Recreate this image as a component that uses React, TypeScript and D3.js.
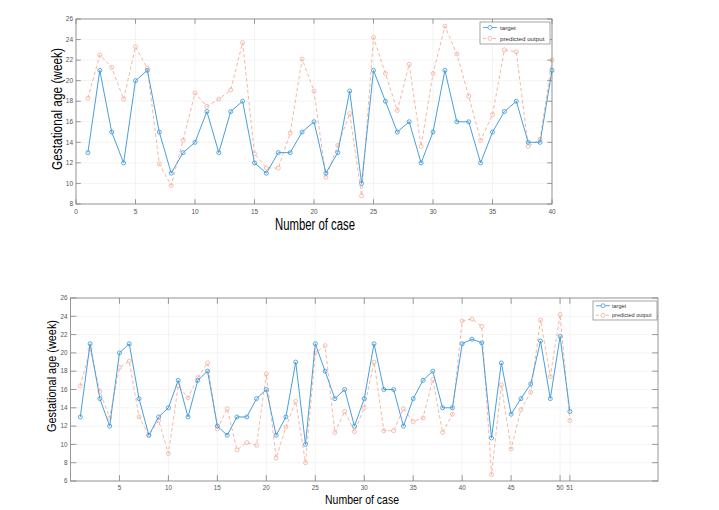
import React from "react";
import * as d3 from "d3";

const topTarget = [13, 21, 15, 12, 20, 21, 15, 11, 13, 14, 17, 13, 17, 18, 12, 11, 13, 13, 15, 16, 11, 13, 19, 10, 21, 18, 15, 16, 12, 15, 21, 16, 16, 12, 15, 17, 18, 14, 14, 21];
const topPredicted = [18.3, 22.5, 21.3, 18.2, 23.3, 21.2, 11.9, 9.8, 14.2, 18.8, 17.5, 18.2, 19.1, 23.7, 12.9, 11.5, 11.5, 14.9, 22.1, 19.0, 10.6, 13.7, 16.8, 8.8, 24.2, 20.7, 17.1, 21.6, 13.6, 20.7, 25.3, 22.6, 18.5, 14.2, 16.7, 23.0, 22.8, 13.6, 14.3, 22.0];
const bottomTarget = [13, 21, 15, 12, 20, 21, 15, 11, 13, 14, 17, 13, 17, 18, 12, 11, 13, 13, 15, 16, 11, 13, 19, 10, 21, 18, 15, 16, 12, 15, 21, 16, 16, 12, 15, 17, 18, 14, 14, 21, 21.5, 21.1, 10.7, 18.9, 13.3, 15.0, 16.6, 21.3, 15, 21.8, 13.6];
const bottomPredicted = [16.4, 20.4, 15.8, 12.9, 18.4, 19.1, 13.0, 11.0, 12.6, 9.0, 16.4, 15.1, 17.3, 18.9, 11.7, 13.9, 9.4, 10.2, 9.9, 17.7, 8.5, 11.9, 14.7, 8.0, 20.0, 20.8, 11.3, 13.6, 11.4, 14.0, 19.0, 11.5, 11.5, 13.9, 12.5, 12.9, 17.1, 11.3, 13.3, 23.5, 23.7, 22.9, 6.7, 16.5, 9.5, 13.8, 15.7, 23.6, 17.4, 24.2, 12.6];
const topXTicks = [0, 5, 10, 15, 20, 25, 30, 35, 40];
const topYTicks = [8, 10, 12, 14, 16, 18, 20, 22, 24, 26];
const bottomXTicks = [5, 10, 15, 20, 25, 30, 35, 40, 45, 50, 51];
const bottomYTicks = [6, 8, 10, 12, 14, 16, 18, 20, 22, 24, 26];
const seriesNames = ["target", "predicted output"];
const yLabel = "Gestational age (week)";
const xLabel = "Number of case";

const BLUE = "#4a9fdc";
const PINK = "#f5ae98";
const AXIS = "#808080";
const GRID = "#efefef";
const FONT = "'Liberation Sans', Arial, sans-serif";

type ChartProps = {
  target: number[];
  predicted: number[];
  xDomain: [number, number];
  yDomain: [number, number];
  xTicks: number[];
  yTicks: number[];
  box: { l: number; r: number; t: number; b: number };
  legend: { x: number; y: number; w: number; h: number; fs: number; tl: number };
  ylab: { x: number; y: number; len: number; fs: number };
  xlab: { x: number; y: number; len: number; fs: number };
  tickFs: number;
};

function Chart(p: ChartProps) {
  const x = d3.scaleLinear().domain(p.xDomain).range([p.box.l, p.box.r]);
  const y = d3.scaleLinear().domain(p.yDomain).range([p.box.b, p.box.t]);
  const tl = 0.01 * (p.box.r - p.box.l);
  const line = d3
    .line<number>()
    .x((_, i) => x(i + 1))
    .y((d) => y(d));
  const lg = p.legend;
  const rowH = lg.h / 2;
  return (
    <g>
      <rect x={p.box.l} y={p.box.t} width={p.box.r - p.box.l} height={p.box.b - p.box.t} fill="#fff" />
      {p.xTicks.map((t) => (
        <line key={"gx" + t} x1={x(t)} x2={x(t)} y1={p.box.t} y2={p.box.b} stroke={GRID} strokeWidth={0.7} />
      ))}
      {p.yTicks.map((t) => (
        <line key={"gy" + t} x1={p.box.l} x2={p.box.r} y1={y(t)} y2={y(t)} stroke={GRID} strokeWidth={0.7} />
      ))}
      <path d={line(p.predicted) || ""} fill="none" stroke={PINK} strokeWidth={0.9} strokeDasharray="3.5,2.5" />
      {p.predicted.map((d, i) => (
        <circle key={"pp" + i} cx={x(i + 1)} cy={y(d)} r={2} fill="none" stroke={PINK} strokeWidth={0.8} />
      ))}
      <path d={line(p.target) || ""} fill="none" stroke={BLUE} strokeWidth={1} />
      {p.target.map((d, i) => (
        <circle key={"tp" + i} cx={x(i + 1)} cy={y(d)} r={2} fill="none" stroke={BLUE} strokeWidth={0.9} />
      ))}
      <rect x={p.box.l} y={p.box.t} width={p.box.r - p.box.l} height={p.box.b - p.box.t} fill="none" stroke={AXIS} strokeWidth={0.8} />
      {p.xTicks.map((t) => (
        <g key={"tx" + t}>
          <line x1={x(t)} x2={x(t)} y1={p.box.b} y2={p.box.b - tl} stroke={AXIS} strokeWidth={0.8} />
          <line x1={x(t)} x2={x(t)} y1={p.box.t} y2={p.box.t + tl} stroke={AXIS} strokeWidth={0.8} />
          <text x={x(t)} y={p.box.b + 3 + p.tickFs} fontSize={p.tickFs} fill="#555" textAnchor="middle" fontFamily={FONT}>
            {t}
          </text>
        </g>
      ))}
      {p.yTicks.map((t) => (
        <g key={"ty" + t}>
          <line x1={p.box.l} x2={p.box.l + tl} y1={y(t)} y2={y(t)} stroke={AXIS} strokeWidth={0.8} />
          <line x1={p.box.r} x2={p.box.r - tl} y1={y(t)} y2={y(t)} stroke={AXIS} strokeWidth={0.8} />
          <text x={p.box.l - 3} y={y(t) + p.tickFs * 0.35} fontSize={p.tickFs} fill="#555" textAnchor="end" fontFamily={FONT}>
            {t}
          </text>
        </g>
      ))}
      <rect x={lg.x} y={lg.y} width={lg.w} height={lg.h} fill="#fff" stroke={AXIS} strokeWidth={0.7} />
      {seriesNames.map((name, i) => {
        const cy = lg.y + rowH * (i + 0.5);
        const c = i === 0 ? BLUE : PINK;
        return (
          <g key={name}>
            <line x1={lg.x + 3} x2={lg.x + 17} y1={cy} y2={cy} stroke={c} strokeWidth={0.9} strokeDasharray={i === 0 ? undefined : "3,2"} />
            <circle cx={lg.x + 10} cy={cy} r={2} fill="#fff" stroke={c} strokeWidth={0.8} />
            <text x={lg.x + lg.tl} y={cy + lg.fs * 0.35} fontSize={lg.fs} fill="#333" fontFamily={FONT}>
              {name}
            </text>
          </g>
        );
      })}
      <text
        transform={`translate(${p.ylab.x},${p.ylab.y}) rotate(-90)`}
        textAnchor="middle"
        fontSize={p.ylab.fs}
        fontFamily={FONT}
        fill="#000"
        textLength={p.ylab.len}
        lengthAdjust="spacingAndGlyphs"
      >
        {yLabel}
      </text>
      <text
        x={p.xlab.x}
        y={p.xlab.y}
        textAnchor="middle"
        fontSize={p.xlab.fs}
        fontFamily={FONT}
        fill="#000"
        textLength={p.xlab.len}
        lengthAdjust="spacingAndGlyphs"
      >
        {xLabel}
      </text>
    </g>
  );
}

export default function App() {
  return (
    <svg width={719} height={510} style={{ position: "absolute", left: 0, top: 0, background: "#fff" }}>
      <rect x={0} y={0} width={719} height={510} fill="#fff" />
      <Chart
        target={topTarget}
        predicted={topPredicted}
        xDomain={[0, 40]}
        yDomain={[8, 26]}
        xTicks={topXTicks}
        yTicks={topYTicks}
        box={{ l: 76, r: 552, t: 19, b: 204 }}
        legend={{ x: 480, y: 22, w: 70, h: 22, fs: 6.2, tl: 20 }}
        ylab={{ x: 62, y: 109, len: 122, fs: 15 }}
        xlab={{ x: 315, y: 230, len: 80, fs: 16 }}
        tickFs={6.5}
      />
      <Chart
        target={bottomTarget}
        predicted={bottomPredicted}
        xDomain={[0, 60]}
        yDomain={[6, 26]}
        xTicks={bottomXTicks}
        yTicks={bottomYTicks}
        box={{ l: 70.5, r: 658, t: 298, b: 481 }}
        legend={{ x: 593, y: 301, w: 64, h: 19, fs: 5.5, tl: 19 }}
        ylab={{ x: 56, y: 376, len: 112, fs: 13 }}
        xlab={{ x: 362, y: 504, len: 74, fs: 13.5 }}
        tickFs={6.3}
      />
    </svg>
  );
}
